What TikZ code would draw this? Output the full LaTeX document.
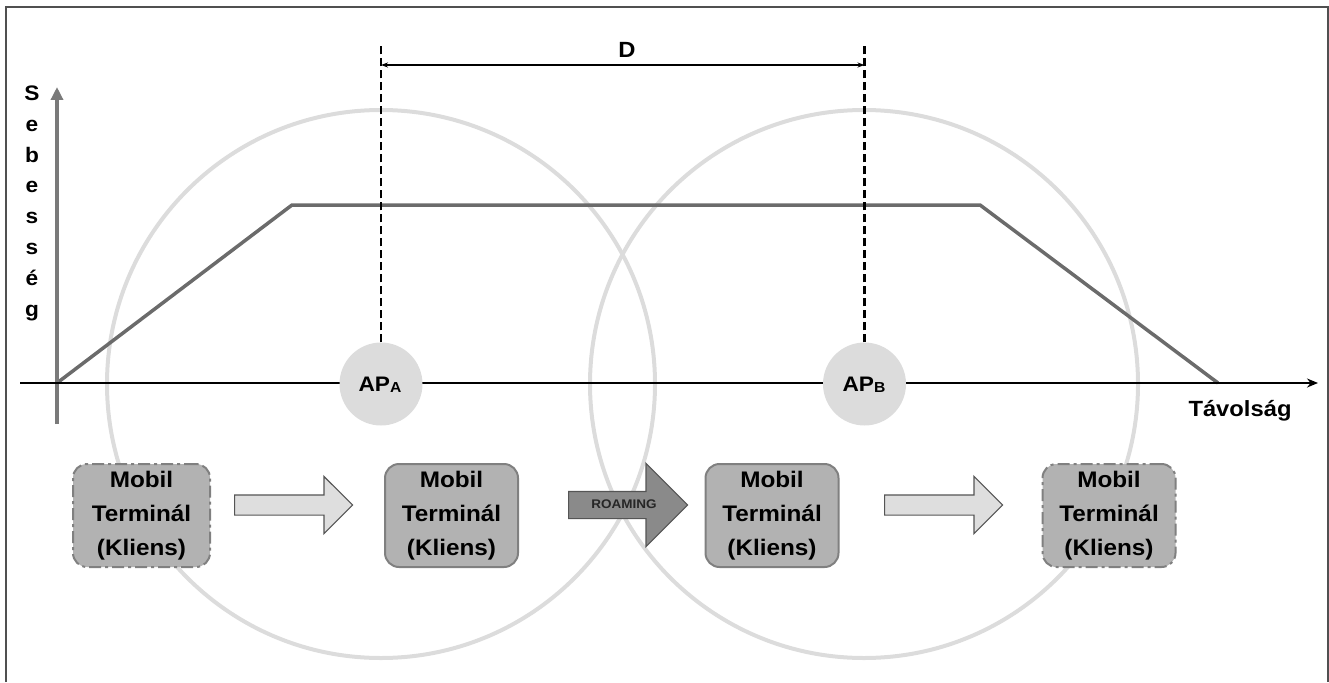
\documentclass[tikz,border=0pt]{standalone}
\usepackage{fontspec}
\setmainfont{Liberation Sans}[FakeStretch=1.08]
\usetikzlibrary{arrows.meta,shapes.arrows}
\definecolor{frameC}{HTML}{505050}
\definecolor{ringC}{HTML}{DCDCDC}
\definecolor{curveC}{HTML}{6B6B6B}
\definecolor{yaxC}{HTML}{7A7A7A}
\definecolor{boxFill}{HTML}{B2B2B2}
\definecolor{boxLine}{HTML}{808080}
\definecolor{apFill}{HTML}{DCDCDC}
\definecolor{lightArr}{HTML}{DEDEDE}
\definecolor{darkArr}{HTML}{8A8A8A}
\definecolor{arrLine}{HTML}{555555}
\tikzset{
  ring/.style={draw=ringC, line width=4pt},
  termbox/.style={draw=boxLine, fill=boxFill, line width=2pt, rounded corners=14pt,
    minimum width=133pt, minimum height=103pt, align=center, inner sep=0pt,
    font=\bfseries\fontsize{22.5}{34}\selectfont},
  dashbox/.style={dash pattern=on 12pt off 4pt on 3pt off 4pt},
  apnode/.style={circle, fill=apFill, minimum size=83pt, inner sep=0pt},
  blockarr/.style={single arrow, draw=arrLine, line width=1.2pt, text height=0pt, text depth=0pt,
    inner xsep=0pt, anchor=tail, shape border rotate=0},
  ylab/.style={anchor=base, font=\bfseries\fontsize{21}{24}\selectfont},
  bigtxt/.style={anchor=base, font=\bfseries\fontsize{22}{24}\selectfont},
  vdash/.style={line width=2.2pt, dash pattern=on 8pt off 4pt},
}
\begin{document}
\begin{tikzpicture}[x=1pt,y=-1pt]
\useasboundingbox (0,0) rectangle (1329,682);
% frame
\draw[frameC, line width=1.6pt] (6,682) -- (6,7) -- (1328,7) -- (1328,682);
% coverage rings
\draw[ring] (381,384) circle[radius=274];
\draw[ring] (864,384) circle[radius=274];
% speed curve
\coordinate (O) at (57,383);
\coordinate (k1) at (292,205);
\coordinate (k2) at (980,205);
\coordinate (e) at (1218,383);
\draw[curveC, line width=3.5pt, line join=miter] (O) -- (k1) -- (k2) -- (e);
% axes
\coordinate (xs) at (20,383);
\coordinate (xe) at (1318,383);
\coordinate (ys) at (57,424);
\coordinate (ye) at (57,87);
\draw[yaxC, line width=4pt, -{Triangle[length=13pt,width=12pt]}] (ys) -- (ye);
\draw[black, line width=1.8pt, -{Stealth[length=11pt,width=9pt]}] (xs) -- (xe);
% access points
\node[apnode] (apa) at (381,384) {};
\node[apnode] (apb) at (864.5,384) {};
\node[anchor=base, font=\bfseries\fontsize{21}{24}\selectfont] (apatxt) at (380,391)
  {AP\raisebox{-1.5pt}{\fontsize{14.5}{16}\selectfont A}};
\node[anchor=base, font=\bfseries\fontsize{21}{24}\selectfont] (apbtxt) at (864,391)
  {AP\raisebox{-1.5pt}{\fontsize{14.5}{16}\selectfont B}};
% dashed verticals and distance D
\coordinate (ta) at (381,43);
\coordinate (tb) at (864.5,43);
\draw[vdash] (apa.north) -- (ta);
\draw[vdash] (apb.north) -- (tb);
\coordinate (da) at (381,65);
\coordinate (db) at (864.5,65);
\draw[line width=1.1pt, {Stealth[length=7pt,width=5pt]}-{Stealth[length=7pt,width=5pt]}] (da) -- (db);
\node[bigtxt] (dlab) at (627,58) {D};
% axis labels
\foreach \c [count=\i] in {S,e,b,e,s,s,é,g}
  \node[ylab] (y\i) at (32,{100.5+30.8*(\i-1)}) {\c};
\node[bigtxt] (tav) at (1240,416) {Távolság};
% terminals
\node[termbox, dashbox, minimum width=137pt] (m1) at (141.5,515.5) {Mobil\\Terminál\\(Kliens)};
\node[termbox] (m2) at (451.5,515.5) {Mobil\\Terminál\\(Kliens)};
\node[termbox] (m3) at (772,515.5) {Mobil\\Terminál\\(Kliens)};
\node[termbox, dashbox] (m4) at (1109,515.5) {Mobil\\Terminál\\(Kliens)};
% block arrows
\node[blockarr, fill=lightArr, minimum height=118pt, inner ysep=9.5pt, single arrow head extend=18.5pt] (a1) at (234,505) {};
\node[blockarr, fill=darkArr, minimum height=119pt, inner ysep=13pt, single arrow head extend=28pt] (a2) at (568,505) {};
\node[blockarr, fill=lightArr, minimum height=118pt, inner ysep=9.5pt, single arrow head extend=18.5pt] (a3) at (884,505) {};
\node[text=black!85, font=\bfseries\fontsize{12.5}{14}\selectfont] (roam) at (624,504) {ROAMING};
\end{tikzpicture}
\end{document}
